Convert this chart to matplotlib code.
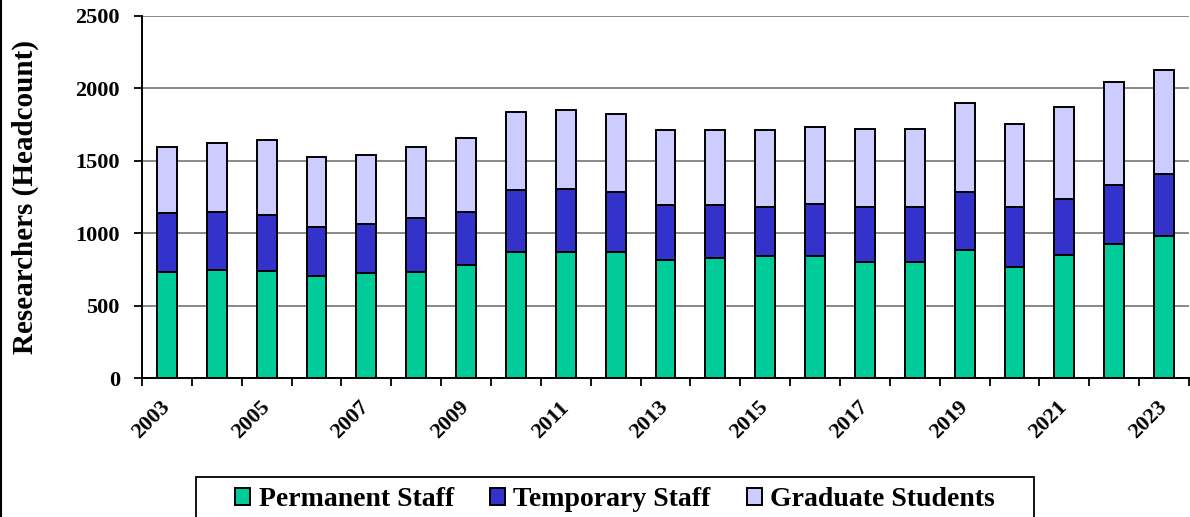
import numpy as np
import matplotlib
matplotlib.use("Agg")
import matplotlib.pyplot as plt
from matplotlib.lines import Line2D
from matplotlib.patches import Rectangle

years = list(range(2003, 2024))
permanent = [729, 748, 738, 701, 722, 729, 778, 870, 868, 868, 812,
             828, 840, 840, 802, 801, 886, 766, 849, 923, 978]
temporary = [408, 399, 390, 342, 342, 374, 369, 429, 436, 417, 381,
             365, 341, 362, 380, 380, 398, 415, 387, 410, 428]
graduate = [455, 475, 513, 484, 473, 489, 512, 535, 549, 540, 519,
            519, 531, 529, 538, 538, 615, 575, 633, 711, 721]
series_names = ["Permanent Staff", "Temporary Staff", "Graduate Students"]
colors = ["#00CC99", "#3333CC", "#CCCCFF"]

plt.rcParams['font.family'] = ['Liberation Serif', 'DejaVu Serif']
plt.rcParams['font.weight'] = 'bold'

fig = plt.figure(figsize=(11.9, 5.17), dpi=100)
ax = fig.add_axes([142/1190, 1 - 378/517, (1189 - 142)/1190, (378 - 16)/517])

x = np.arange(len(years))
bottom = np.zeros(len(years))
for vals, name, col in zip([permanent, temporary, graduate], series_names, colors):
    ax.bar(x, vals, width=0.4, bottom=bottom, color=col, edgecolor='black',
           linewidth=1.4, label=name, zorder=3)
    bottom += np.array(vals)

ax.set_xlim(-0.5, len(years) - 0.5)
ax.set_ylim(0, 2500)
ax.set_yticks(range(0, 2501, 500))
ax.yaxis.grid(True, color='#808080', linewidth=1.3, zorder=0)
ax.set_axisbelow(True)

# boundary ticks (no labels) and centred year labels every other year
ax.set_xticks(np.arange(-0.5, len(years) + 0.5, 1))
ax.set_xticklabels([])
ax.tick_params(axis='x', which='major', length=6, width=1.3, direction='out')
ax.set_xticks(x[::2], [str(y) for y in years[::2]], minor=True,
              fontsize=16, fontweight='bold', rotation=45, ha='right',
              va='center', rotation_mode='anchor')
ax.tick_params(axis='x', which='minor', length=0, pad=19)

ax.tick_params(axis='y', length=6, width=1.3, pad=10, labelsize=16)
for lbl in ax.get_yticklabels():
    lbl.set_fontweight('bold')

ax.spines['top'].set_visible(False)
ax.spines['right'].set_visible(False)
ax.spines['left'].set_linewidth(1.4)
ax.spines['bottom'].set_linewidth(1.4)

ax.set_ylabel("Researchers (Headcount)", fontsize=21, fontweight='bold')
ax.yaxis.set_label_coords(-0.098, 0.5)

# legend box (runs off the bottom edge like the original)
fig.add_artist(Rectangle((196/1190, -0.05), (1034 - 196)/1190, 0.05 + 1 - 477/517,
                         transform=fig.transFigure, facecolor='white',
                         edgecolor='black', linewidth=1.3))
leg = fig.legend(loc='upper center', ncol=3, frameon=False,
                 bbox_to_anchor=(615/1190, 1 - 479/517),
                 prop={'size': 20, 'weight': 'bold'},
                 handlelength=0.55, handleheight=0.55, handletextpad=0.3,
                 columnspacing=1.3, borderpad=0.3, borderaxespad=0)

# left border of the chart area
fig.add_artist(Line2D([0.001, 0.001], [0, 1], color='black', linewidth=1.5,
                      transform=fig.transFigure))

fig.savefig("out.png", dpi=100)
